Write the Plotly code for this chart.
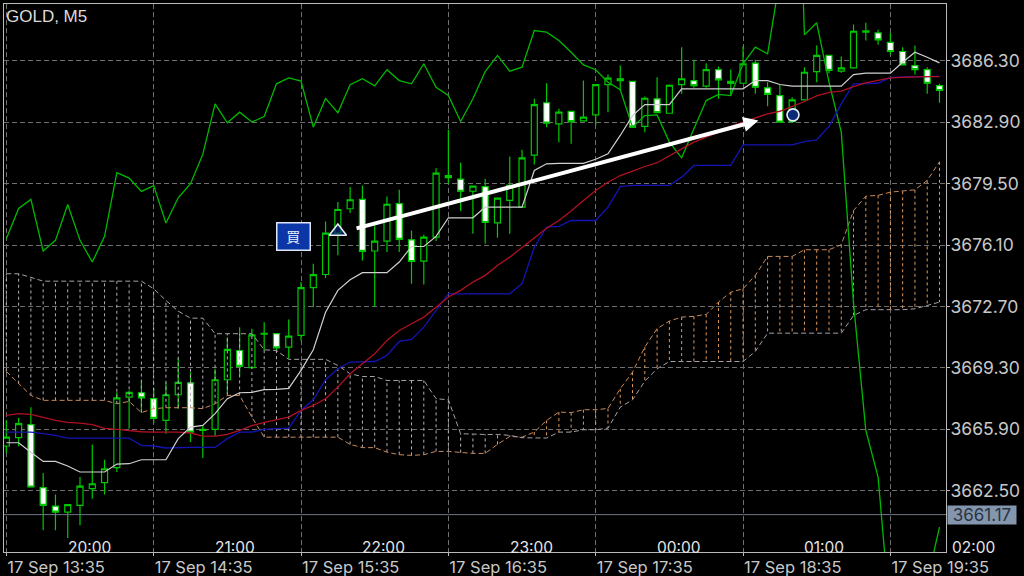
import pandas as pd
import plotly.graph_objects as go

# 5 minute bars, 17 Sep
START = "2025-09-17 13:35"

opens = [
    3664.97, 3665.43, 3666.15, 3662.66, 3661.64, 3661.31, 3661.68, 3662.61, 3662.94, 3663.77,
    3667.68, 3667.92, 3667.59, 3666.39, 3667.81, 3668.47, 3665.84, 3665.89, 3668.64, 3670.26,
    3669.31, 3671.17, 3671.19, 3670.45, 3671.10, 3673.74, 3674.47, 3676.76, 3678.11, 3678.63,
    3675.77, 3676.32, 3678.39, 3676.39, 3675.21, 3676.54, 3679.94, 3679.75, 3679.08, 3679.34,
    3677.33, 3678.57, 3678.20, 3681.08, 3683.98, 3682.81, 3683.50, 3682.98, 3683.31, 3684.99,
    3685.31, 3685.16, 3682.67, 3684.20, 3683.40, 3684.99, 3685.21, 3684.90, 3685.81, 3685.16,
    3685.06, 3686.17, 3684.81, 3684.38, 3682.94, 3684.14, 3685.71, 3686.60, 3685.73, 3685.91,
    3687.89, 3687.85, 3687.33, 3686.82, 3686.04, 3685.81, 3684.93,
]
highs = [
    3666.39, 3666.52, 3667.12, 3663.47, 3662.29, 3661.72, 3663.25, 3665.06, 3664.21, 3667.95,
    3668.05, 3668.56, 3668.17, 3668.47, 3669.80, 3669.06, 3666.11, 3669.25, 3671.00, 3671.55,
    3671.47, 3671.83, 3671.19, 3671.98, 3674.05, 3675.07, 3677.41, 3678.48, 3679.31, 3679.40,
    3677.19, 3678.79, 3679.16, 3676.91, 3676.67, 3680.36, 3682.49, 3680.66, 3679.36, 3679.77,
    3678.70, 3681.01, 3681.38, 3684.20, 3685.06, 3683.65, 3683.50, 3685.21, 3684.99, 3685.54,
    3686.04, 3685.16, 3684.33, 3685.39, 3684.99, 3687.06, 3686.36, 3686.17, 3685.99, 3685.82,
    3687.11, 3686.36, 3685.12, 3684.97, 3684.29, 3685.95, 3687.15, 3686.60, 3686.54, 3688.31,
    3688.41, 3688.03, 3687.85, 3687.06, 3687.15, 3685.95, 3685.03,
]
lows = [
    3664.55, 3664.95, 3662.70, 3660.30, 3660.30, 3659.87, 3660.58, 3662.05, 3662.29, 3663.53,
    3665.93, 3666.83, 3666.24, 3665.65, 3667.04, 3665.19, 3664.30, 3665.52, 3667.87, 3668.88,
    3669.31, 3670.26, 3670.17, 3669.80, 3670.82, 3672.66, 3674.27, 3675.53, 3677.87, 3675.25,
    3672.70, 3675.71, 3675.71, 3673.96, 3673.92, 3676.32, 3679.50, 3677.98, 3676.73, 3676.17,
    3676.50, 3676.73, 3678.20, 3680.56, 3682.63, 3681.80, 3681.71, 3682.98, 3682.72, 3683.46,
    3684.66, 3682.63, 3682.35, 3683.43, 3683.37, 3684.48, 3684.81, 3684.81, 3684.20, 3684.38,
    3685.06, 3684.48, 3683.79, 3682.91, 3682.91, 3684.14, 3685.12, 3685.62, 3685.64, 3685.86,
    3687.43, 3687.20, 3686.65, 3686.08, 3685.54, 3684.48, 3683.98,
]
closes = [
    3665.46, 3666.21, 3662.70, 3661.68, 3661.31, 3661.72, 3662.75, 3662.88, 3663.71, 3667.64,
    3667.94, 3667.64, 3666.50, 3667.81, 3668.49, 3665.74, 3665.89, 3668.64, 3670.32, 3669.38,
    3671.13, 3671.21, 3670.41, 3671.06, 3673.74, 3674.46, 3676.76, 3678.07, 3678.61, 3675.75,
    3676.32, 3678.36, 3676.41, 3675.19, 3676.54, 3680.08, 3679.83, 3679.08, 3679.36, 3677.35,
    3678.70, 3679.40, 3680.93, 3683.88, 3682.85, 3683.46, 3682.94, 3683.18, 3684.99, 3685.34,
    3685.21, 3682.63, 3684.23, 3683.43, 3684.95, 3685.31, 3684.93, 3685.81, 3685.25, 3685.05,
    3686.14, 3684.84, 3684.44, 3682.91, 3684.14, 3685.67, 3686.60, 3685.77, 3685.91, 3687.94,
    3687.96, 3687.46, 3686.82, 3686.08, 3685.82, 3685.06, 3684.66,
]

tenkan = [
    3665.15, 3665.15, 3664.63, 3664.12, 3664.12, 3663.86, 3663.53, 3663.53, 3663.53, 3663.97,
    3663.99, 3664.21, 3664.21, 3664.21, 3665.38, 3666.02, 3666.11, 3666.76, 3667.59, 3667.92,
    3667.94, 3668.09, 3668.11, 3668.16, 3669.16, 3670.30, 3672.38, 3673.59, 3674.18, 3674.57,
    3674.57, 3674.57, 3675.16, 3676.02, 3676.02, 3676.58, 3677.61, 3677.61, 3677.61, 3678.20,
    3678.20, 3678.20, 3678.20, 3680.23, 3680.60, 3680.62, 3680.62, 3680.62, 3680.85, 3681.15,
    3682.17, 3683.27, 3683.88, 3683.88, 3683.88, 3684.75, 3684.75, 3684.75, 3684.75, 3684.75,
    3684.75, 3685.21, 3685.21, 3684.99, 3684.90, 3684.90, 3684.90, 3684.90, 3684.90, 3685.54,
    3685.62, 3685.62, 3685.62, 3686.22, 3686.78, 3686.50, 3686.19,
]
kijun = [
    3665.74, 3665.74, 3665.74, 3665.65, 3665.56, 3665.41, 3665.41, 3665.41, 3665.41, 3665.41,
    3665.41, 3665.01, 3664.97, 3664.86, 3664.89, 3664.89, 3664.89, 3664.89, 3665.38, 3665.74,
    3665.74, 3665.89, 3665.93, 3665.96, 3666.94, 3667.53, 3668.64, 3669.25, 3669.62, 3669.65,
    3669.65, 3669.99, 3670.76, 3670.87, 3671.55, 3672.48, 3673.40, 3673.40, 3673.40, 3673.40,
    3673.40, 3673.40, 3673.96, 3675.98, 3677.09, 3677.13, 3677.46, 3677.46, 3677.46, 3678.20,
    3679.34, 3679.40, 3679.40, 3679.40, 3679.40, 3679.86, 3680.51, 3680.51, 3680.51, 3680.51,
    3681.65, 3681.65, 3681.65, 3681.65, 3681.65, 3681.83, 3681.93, 3682.67, 3683.92, 3685.03,
    3685.03, 3685.06, 3685.39, 3685.43, 3685.43, 3685.43, 3685.45,
]
span_a = [
    3669.10, 3668.42, 3667.77, 3667.50, 3667.50, 3667.50, 3667.50, 3667.50, 3667.50, 3667.31,
    3667.44, 3666.82, 3667.04, 3667.09, 3667.09, 3667.09, 3667.04, 3667.31, 3667.77, 3667.77,
    3666.57, 3665.46, 3665.46, 3665.46, 3665.46, 3665.46, 3665.46, 3665.46, 3665.06, 3664.88,
    3664.88, 3664.63, 3664.49, 3664.45, 3664.49, 3664.67, 3664.67, 3664.60, 3664.56, 3664.56,
    3665.06, 3665.50, 3665.46, 3665.74, 3666.39, 3666.85, 3666.82, 3666.98, 3666.98, 3667.05,
    3668.14, 3669.06, 3670.45, 3671.47, 3671.89, 3672.11, 3672.15, 3672.26, 3672.94, 3673.49,
    3673.68, 3674.42, 3675.47, 3675.47, 3675.47, 3675.84, 3675.84, 3675.84, 3676.12, 3678.01,
    3678.81, 3678.85, 3679.03, 3679.08, 3679.16, 3679.68, 3680.71,
]
span_b = [
    3674.51, 3674.51, 3674.31, 3674.10, 3674.10, 3674.10, 3674.10, 3674.10, 3674.10, 3674.10,
    3674.10, 3674.10, 3673.68, 3673.03, 3672.44, 3672.05, 3672.05, 3671.19, 3671.19, 3671.19,
    3671.19, 3670.30, 3670.26, 3669.77, 3669.77, 3669.77, 3669.77, 3669.43, 3668.97, 3668.82,
    3668.82, 3668.60, 3668.60, 3668.60, 3668.60, 3667.59, 3667.53, 3665.65, 3665.61, 3665.61,
    3665.61, 3665.56, 3665.43, 3665.41, 3665.41, 3665.74, 3665.74, 3665.87, 3665.87, 3665.96,
    3667.12, 3667.53, 3668.56, 3669.25, 3669.65, 3669.65, 3669.65, 3669.65, 3669.65, 3669.65,
    3669.65, 3670.21, 3671.22, 3671.22, 3671.22, 3671.22, 3671.22, 3671.22, 3671.22, 3672.20,
    3672.52, 3672.52, 3672.52, 3672.52, 3672.57, 3672.75, 3672.94,
]
chikou = [
    3676.45, 3678.13, 3678.63, 3675.77, 3676.36, 3678.35, 3676.36, 3675.16, 3676.58, 3680.11,
    3679.81, 3679.07, 3679.39, 3677.32, 3678.72, 3679.50, 3681.12, 3683.92, 3682.87, 3683.46,
    3682.91, 3683.22, 3685.03, 3685.36, 3685.18, 3682.63, 3684.22, 3683.43, 3684.98, 3685.31,
    3684.92, 3685.81, 3685.21, 3685.03, 3686.14, 3684.84, 3684.38, 3682.94, 3684.20, 3685.71,
    3686.60, 3685.73, 3685.95, 3687.98, 3687.89, 3687.43, 3686.78, 3686.08, 3685.81, 3685.12,
    3684.70, 3682.63, 3683.27, 3683.31, 3681.80, 3680.93, 3682.54, 3684.10, 3684.44, 3684.38,
    3686.14, 3687.06, 3686.69, 3690.84, 3708.90, 3687.74, 3688.41, 3685.12, 3682.35, 3672.87,
    3665.84, 3663.25, 3655.39, 3654.20, 3655.30, 3657.48, 3660.48,
]
ma_red = [
    3666.67, 3666.76, 3666.72, 3666.54, 3666.39, 3666.28, 3666.24, 3666.15, 3665.95, 3665.89,
    3665.82, 3665.76, 3665.74, 3665.74, 3665.74, 3665.69, 3665.52, 3665.52, 3665.61, 3665.84,
    3666.10, 3666.28, 3666.43, 3666.57, 3666.94, 3667.22, 3667.59, 3668.23, 3668.97, 3669.53,
    3670.08, 3670.82, 3671.37, 3671.74, 3672.11, 3672.66, 3673.22, 3673.59, 3674.05, 3674.42,
    3674.97, 3675.43, 3675.95, 3676.50, 3677.03, 3677.46, 3677.98, 3678.57, 3679.12, 3679.58,
    3679.95, 3680.19, 3680.45, 3680.66, 3681.06, 3681.43, 3681.80, 3682.07, 3682.35, 3682.67,
    3682.91, 3683.15, 3683.37, 3683.51, 3683.77, 3684.05, 3684.36, 3684.55, 3684.62, 3684.88,
    3685.08, 3685.21, 3685.36, 3685.39, 3685.42, 3685.43, 3685.43,
]

price_ticks = [3686.30, 3682.90, 3679.50, 3676.10, 3672.70, 3669.30, 3665.90, 3662.50]
current_price = 3661.17
hour_labels = ["20:00", "21:00", "22:00", "23:00", "00:00", "01:00", "02:00"]

BG = "#000000"
GRID = "#6e6e6e"
FRAME = "#b9b9b9"
CANDLE = "#00c800"
FONT = "Inter"

times = pd.date_range(START, periods=len(opens), freq="5min")
x_range = [times[0] - pd.Timedelta(seconds=57), times[0] + pd.Timedelta(seconds=22959)]
hour_ticks = times[::12]


def span_hatch(keep):
    # one vertical dashed stroke per bar between the two cloud lines
    xs, ys = [], []
    for t, a, b in zip(times, span_a, span_b):
        if keep(a, b):
            xs += [t, t, None]
            ys += [a, b, None]
    return xs, ys


fig = go.Figure()

# cloud hatching, then the span lines
x_up, y_up = span_hatch(lambda a, b: a >= b)
x_down, y_down = span_hatch(lambda a, b: a < b)
fig.add_trace(go.Scatter(x=x_down, y=y_down, mode="lines", line=dict(color="#b8b0b8", width=1, dash="3px,3px")))
fig.add_trace(go.Scatter(x=x_up, y=y_up, mode="lines", line=dict(color="#e09a5c", width=1, dash="3px,3px")))
fig.add_trace(go.Scatter(x=times, y=span_a, mode="lines", line=dict(color="#c98a5a", width=1, dash="5px,3px")))
fig.add_trace(go.Scatter(x=times, y=span_b, mode="lines", line=dict(color="#a8a0a8", width=1, dash="5px,3px")))

fig.add_trace(go.Candlestick(
    x=times, open=opens, high=highs, low=lows, close=closes,
    increasing=dict(line=dict(color=CANDLE, width=1.2), fillcolor=BG),
    decreasing=dict(line=dict(color=CANDLE, width=1.2), fillcolor="#ffffff"),
    whiskerwidth=0,
))

fig.add_trace(go.Scatter(x=times, y=chikou, mode="lines", line=dict(color="#00b800", width=1.3)))
fig.add_trace(go.Scatter(x=times, y=kijun, mode="lines", line=dict(color="#1414b4", width=1.3)))
fig.add_trace(go.Scatter(x=times, y=ma_red, mode="lines", line=dict(color="#b01020", width=1.3)))
fig.add_trace(go.Scatter(x=times, y=tenkan, mode="lines", line=dict(color="#d0d0d0", width=1.2)))

# entry and exit of the trade
fig.add_trace(go.Scatter(
    x=[times[27]], y=[3676.85], mode="markers",
    marker=dict(symbol="triangle-up", size=15, color="rgba(10,40,120,0.7)", line=dict(color="#e8eef8", width=1.6)),
))
fig.add_trace(go.Scatter(
    x=[times[64] + pd.Timedelta(seconds=20)], y=[3683.31], mode="markers",
    marker=dict(symbol="circle", size=12, color="#0a2a78", line=dict(color="#e8eef8", width=1.6)),
))

# trade arrow
fig.add_annotation(
    x=times[61] + pd.Timedelta(seconds=75), y=3683.0, ax=times[28] + pd.Timedelta(seconds=120), ay=3677.0,
    xref="x", yref="y", axref="x", ayref="y", text="",
    showarrow=True, arrowhead=2, arrowsize=0.75, arrowwidth=4, arrowcolor="#ffffff",
)

# buy label
fig.add_annotation(
    x=times[23] + pd.Timedelta(seconds=141), y=3676.58, xref="x", yref="y", xshift=-1,
    text="買", showarrow=False, width=29.5, height=23.5,
    bgcolor="#0a36a8", bordercolor="#dfe6f5", borderwidth=1.5,
    font=dict(family="Noto Sans CJK JP", size=14, color="#e8eef8"),
)

fig.add_annotation(
    x=0.002, y=0.998, xref="paper", yref="paper", xanchor="left", yanchor="top", xshift=-2,
    text="GOLD, M5", showarrow=False, font=dict(family="Liberation Sans", size=17, color="#dcdcdc"),
)

# last price line and its box
fig.add_shape(type="line", xref="paper", x0=0, x1=1, yref="y", y0=current_price, y1=current_price,
              line=dict(color="#6f7784", width=1))
fig.add_annotation(
    x=1, y=current_price, xref="paper", yref="y", xanchor="left", xshift=1, width=66, height=15.5,
    text=f"{current_price:.2f}", showarrow=False, bgcolor="#8496ae",
    font=dict(family=FONT, size=17, color="#2a3340"),
)

# local time labels sit inside the chart, just above the time axis
for n, label in enumerate(hour_labels):
    fig.add_annotation(
        x=(5 + 12 * n + 0.19) / 76.72, y=0, xref="paper", yref="paper", xanchor="left", yanchor="bottom",
        xshift=-2, yshift=-7,
        text=label, showarrow=False, font=dict(family=FONT, size=15.5, color="#e6e6e6"),
    )

fig.update_layout(
    width=1024, height=576,
    margin=dict(l=4, r=78, t=4, b=24, autoexpand=False),
    paper_bgcolor=BG, plot_bgcolor=BG,
    showlegend=False,
    font=dict(family=FONT, color="#c8c8c8"),
)
fig.update_xaxes(
    range=x_range, rangeslider_visible=False, automargin=False,
    tickvals=hour_ticks, tickformat="%d %b %H:%M", ticklabelposition="outside right",
    tickfont=dict(size=16.5, color="#c8c8c8"),
    ticks="outside", ticklen=3, tickcolor=FRAME,
    showgrid=True, gridcolor=GRID, griddash="5px,3px", gridwidth=1,
    showline=True, linecolor=FRAME, linewidth=1, mirror=True, zeroline=False,
)
fig.update_yaxes(
    range=[3659.10, 3689.45], side="right", automargin=False,
    tickvals=price_ticks, tickformat=".2f", ticklabelstandoff=-3,
    tickfont=dict(size=17.5, color="#c8c8c8"),
    ticks="outside", ticklen=3, tickcolor=FRAME,
    showgrid=True, gridcolor=GRID, griddash="5px,3px", gridwidth=1,
    showline=True, linecolor=FRAME, linewidth=1, mirror=True, zeroline=False,
)

fig.write_html(
    "out.html",
    config={"displayModeBar": False},
    post_script="document.body.style.margin='0';document.body.style.background='#000';",
)
